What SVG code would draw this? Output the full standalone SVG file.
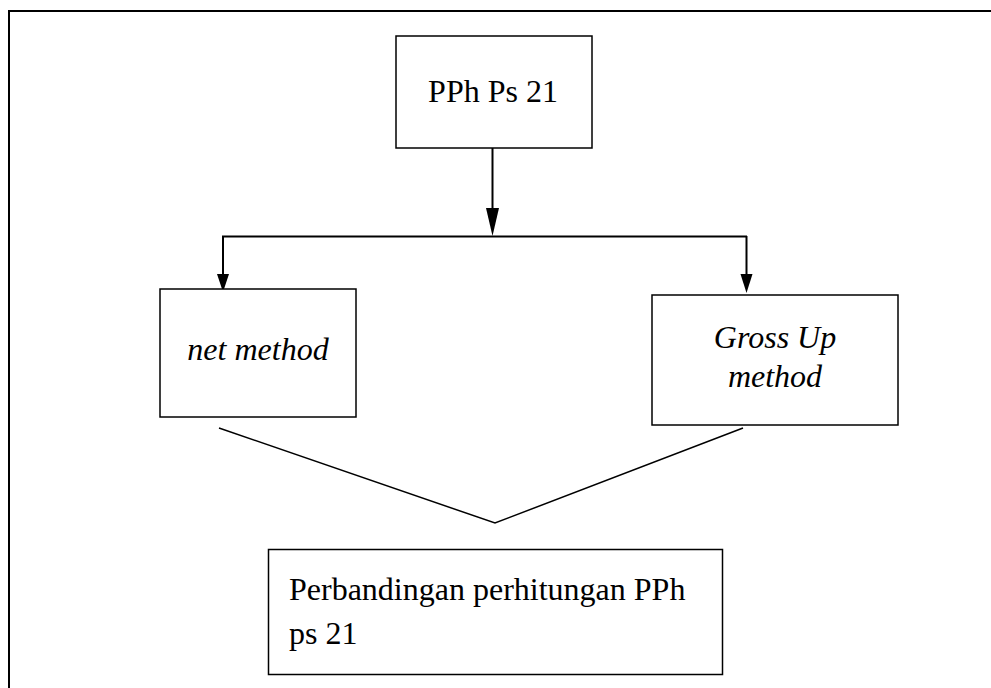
<svg xmlns="http://www.w3.org/2000/svg" width="991" height="688" viewBox="0 0 991 688">
<style>
.box{fill:#fff;stroke:#000;stroke-width:1.5}
.t{font-family:"Liberation Serif","Times New Roman",serif;font-size:32px;fill:#000}
.i{font-style:italic}
.ln{fill:none;stroke:#000;stroke-width:2}
.thin{fill:none;stroke:#000;stroke-width:1.5}
.ah{fill:#000;stroke:none}
</style>
<rect x="0" y="0" width="991" height="688" fill="#fff"/>
<rect x="9" y="11" width="1000" height="700" fill="none" stroke="#000" stroke-width="2"/>
<g id="connectors">
<line class="ln" x1="492.5" y1="148" x2="492.5" y2="212"/>
<polygon class="ah" points="486,208 499,208 492.5,236"/>
<line class="ln" x1="222" y1="236.5" x2="747" y2="236.5"/>
<line class="ln" x1="223" y1="236" x2="223" y2="278"/>
<polygon class="ah" points="217,274 229,274 223,292"/>
<line class="ln" x1="746.5" y1="236" x2="746.5" y2="278"/>
<polygon class="ah" points="740.5,274 752.5,274 746.5,293"/>
<polyline class="thin" points="219,428 495,523 743,428"/>
</g>
<g id="node-pph">
<rect class="box" x="396" y="36" width="196" height="112"/>
<text class="t" x="493" y="102" text-anchor="middle">PPh Ps 21</text>
</g>
<g id="node-net">
<rect class="box" x="160" y="289" width="196" height="128"/>
<text class="t i" x="258" y="360" text-anchor="middle">net method</text>
</g>
<g id="node-gross">
<rect class="box" x="652" y="295" width="246" height="130"/>
<text class="t i" x="775" y="348" text-anchor="middle">Gross Up</text>
<text class="t i" x="775" y="387" text-anchor="middle">method</text>
</g>
<g id="node-compare">
<rect class="box" x="268.5" y="549.5" width="454" height="125"/>
<text class="t" x="289" y="600">Perbandingan perhitungan PPh</text>
<text class="t" x="289" y="644">ps 21</text>
</g>
</svg>
